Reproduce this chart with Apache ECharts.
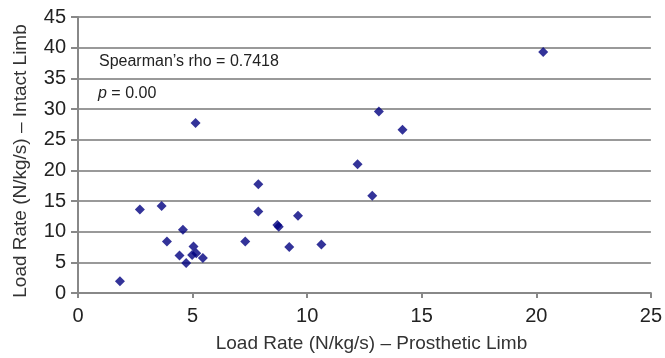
<!DOCTYPE html>
<html>
<head>
<meta charset="utf-8">
<script src="https://cdn.jsdelivr.net/npm/echarts@6/dist/echarts.min.js"></script>
<style>
  html, body { margin: 0; padding: 0; background: #fff; }
  #chart { width: 665px; height: 358px; }
</style>
</head>
<body>
<div id="chart"></div>
<script>
// load rate, prosthetic limb (x) vs intact limb (y)
var prosthetic = [1.83, 2.7, 3.65, 3.88, 4.58, 4.43, 4.72, 5.04, 4.98, 5.16, 5.45, 5.13,
  7.3, 7.87, 7.87, 8.7, 8.76, 9.22, 9.6, 10.62, 12.2, 12.84, 13.13, 14.16, 20.3];
var intact = [1.9, 13.6, 14.2, 8.4, 10.3, 6.1, 4.9, 7.6, 6.2, 6.5, 5.7, 27.7,
  8.4, 17.75, 13.3, 11.1, 10.8, 7.5, 12.6, 7.9, 21.0, 15.85, 29.6, 26.6, 39.3];
var xTicks = [0, 5, 10, 15, 20, 25];
var yTicks = [0, 5, 10, 15, 20, 25, 30, 35, 40, 45];

var points = [];
for (var i = 0; i < prosthetic.length; i++) {
  points.push([prosthetic[i], intact[i]]);
}

var chart = echarts.init(document.getElementById('chart'), null, { renderer: 'canvas' });
var font = 'Liberation Sans, Arial, sans-serif';
var option = {
  animation: false,
  grid: { left: 78, right: 12, top: 17, bottom: 65 },
  xAxis: {
    type: 'value',
    min: xTicks[0], max: xTicks[xTicks.length - 1], interval: 5,
    name: 'Load Rate (N/kg/s) \u2013 Prosthetic Limb',
    nameLocation: 'middle', nameGap: 41,
    nameTextStyle: { fontFamily: font, fontSize: 19, color: '#333', padding: [0, 0, 0, 14] },
    axisLine: { show: true, lineStyle: { color: '#888', width: 2 } },
    axisTick: { show: true, length: 5, lineStyle: { color: '#888', width: 2 } },
    axisLabel: { fontFamily: font, fontSize: 20, color: '#222', margin: 13 },
    splitLine: { show: false }
  },
  yAxis: {
    type: 'value',
    min: yTicks[0], max: yTicks[yTicks.length - 1], interval: 5,
    name: 'Load Rate (N/kg/s) \u2013 Intact Limb',
    nameLocation: 'middle', nameGap: 48,
    nameTextStyle: { fontFamily: font, fontSize: 19, color: '#333', padding: [0, 12, 0, 0] },
    axisLine: { show: true, lineStyle: { color: '#888', width: 2 } },
    axisTick: { show: true, length: 7, lineStyle: { color: '#888', width: 2 } },
    axisLabel: { fontFamily: font, fontSize: 20, color: '#222', margin: 12 },
    splitLine: { show: true, lineStyle: { color: '#999', width: 2 } }
  },
  graphic: [
    { type: 'text', left: 99, top: 54,
      style: { text: 'Spearman\u2019s rho = 0.7418', font: '16px ' + font, fill: '#222' } },
    { type: 'text', left: 98, top: 86,
      style: { text: '{i|p} = 0.00', font: '16px ' + font, fill: '#222',
        rich: { i: { fontStyle: 'italic', fontSize: 16, fontFamily: font, color: '#222' } } } }
  ],
  series: [{
    type: 'scatter',
    data: points,
    symbol: 'diamond',
    symbolSize: 10,
    itemStyle: { color: '#000080' }
  }]
};
chart.setOption(option);
</script>
</body>
</html>
